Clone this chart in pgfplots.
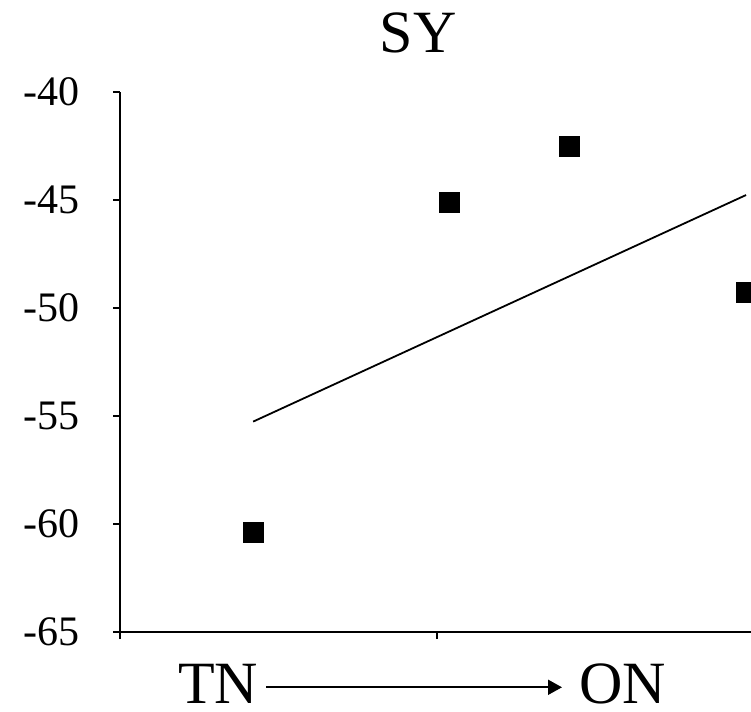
\documentclass[border=0pt]{standalone}
\usepackage{fontspec}
\setmainfont{Liberation Serif}
\usepackage{pgfplots}
\pgfplotsset{compat=1.18}
\usetikzlibrary{arrows.meta}
\begin{document}
\begin{tikzpicture}
\useasboundingbox (0,0) rectangle (751pt,711pt);
\clip (0,0) rectangle (751pt,711pt);
\begin{axis}[
  at={(120pt,79pt)}, anchor=south west,
  scale only axis, width=634pt, height=540pt,
  xmin=0, xmax=2, ymin=-65, ymax=-40,
  axis lines*=left,
  axis line style={line width=1.3pt, black},
  xtick={0,1,2}, xticklabels={},
  ytick={-65,-60,-55,-50,-45,-40},
  yticklabels={-65,-60,-55,-50,-45,-40},
  tick align=outside, major tick length=7pt,
  tick style={line width=1.3pt, black},
  yticklabel style={font=\fontsize{42}{48}\selectfont, anchor=east, xshift=-30pt},
  clip=false,
]
\addplot[only marks, mark=square*, mark size=10pt, black] coordinates {
  (0.42,-60.37) (1.039,-45.09) (1.416,-42.5) (1.975,-49.26)
};
\addplot[black, line width=1.8pt] coordinates {
  (0.42,-55.26) (1.975,-44.77)
};
\end{axis}
\node[anchor=base, inner sep=0pt, font=\fontsize{60}{70}\selectfont] at (418pt,658pt) {SY};
\node[anchor=base west, inner sep=0pt, font=\fontsize{60}{70}\selectfont] at (178pt,8pt) {TN};
\node[anchor=base west, inner sep=0pt, font=\fontsize{60}{70}\selectfont] at (579pt,8pt) {ON};
\draw[line width=1.8pt, -{Triangle[length=14pt, width=15pt]}] (266pt,23.7pt) -- (562pt,23.7pt);
\end{tikzpicture}
\end{document}
